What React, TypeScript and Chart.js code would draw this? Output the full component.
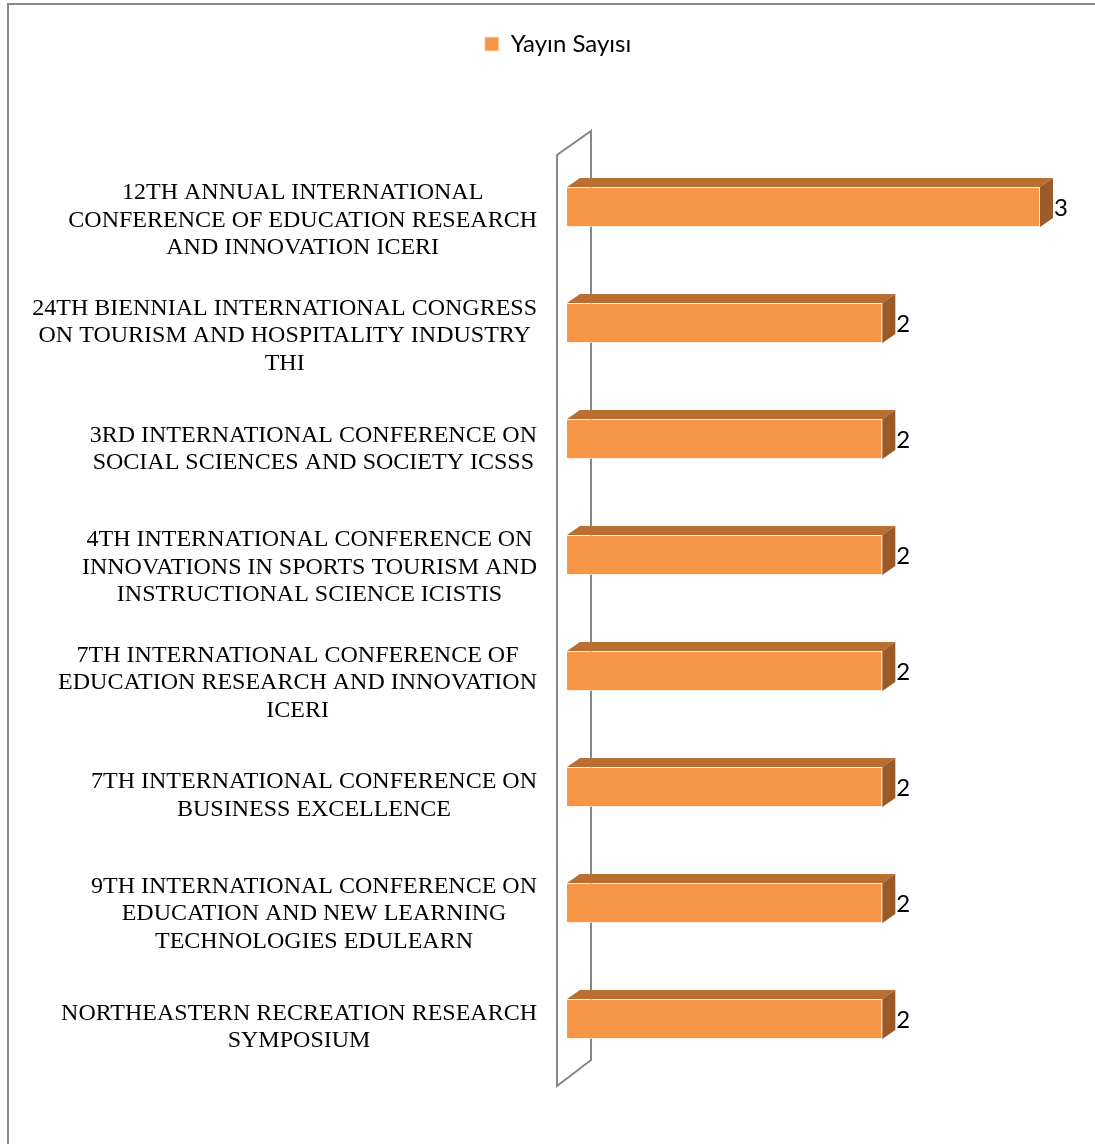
import React, { useEffect, useRef } from "react";
import { Chart, registerables } from "chart.js";

Chart.register(...registerables);

const seriesName = "Yayın Sayısı";
const categories: string[][] = [
  ["12TH ANNUAL INTERNATIONAL", "CONFERENCE OF EDUCATION RESEARCH", "AND INNOVATION ICERI"],
  ["24TH BIENNIAL INTERNATIONAL CONGRESS", "ON TOURISM AND HOSPITALITY INDUSTRY", "THI"],
  ["3RD INTERNATIONAL CONFERENCE ON", "SOCIAL SCIENCES AND SOCIETY ICSSS"],
  ["4TH INTERNATIONAL CONFERENCE ON", "INNOVATIONS IN SPORTS TOURISM AND", "INSTRUCTIONAL SCIENCE ICISTIS"],
  ["7TH INTERNATIONAL CONFERENCE OF", "EDUCATION RESEARCH AND INNOVATION", "ICERI"],
  ["7TH INTERNATIONAL CONFERENCE ON", "BUSINESS EXCELLENCE"],
  ["9TH INTERNATIONAL CONFERENCE ON", "EDUCATION AND NEW LEARNING", "TECHNOLOGIES EDULEARN"],
  ["NORTHEASTERN RECREATION RESEARCH", "SYMPOSIUM"],
];
const values: number[] = [3, 2, 2, 2, 2, 2, 2, 2];
const xMin = 0;
const xMax = 3;

const FRONT = "#F79646";
const TOP = "#B96F31";
const SIDE = "#9A5B28";
const DX = 13;
const DY = 9;
const TARGET_TOP = 149;
const PAD_TOP = 22;
const LABEL_SIZE = 24;
const LINE_H = 27.5;

const threeD = {
  id: "threeD",
  beforeDatasetsDraw(chart: any) {
    const { ctx, chartArea: a } = chart;
    ctx.save();
    ctx.strokeStyle = "#878787";
    ctx.lineWidth = 2;
    ctx.beginPath();
    ctx.moveTo(a.left - 10, a.bottom + 9);
    ctx.lineTo(a.left - 10, a.top + 6);
    ctx.lineTo(a.left + 24, a.top - 18);
    ctx.lineTo(a.left + 24, a.bottom - 17);
    ctx.closePath();
    ctx.stroke();
    ctx.restore();
  },
  afterDatasetsDraw(chart: any) {
    const { ctx, chartArea: a } = chart;
    const meta = chart.getDatasetMeta(0);
    const ds = chart.data.datasets[0];
    ctx.save();
    meta.data.forEach((bar: any, i: number) => {
      const { x, y, base, height } = bar.getProps(["x", "y", "base", "height"], true);
      const t = y - height / 2;
      const b = y + height / 2;
      ctx.fillStyle = TOP;
      ctx.beginPath();
      ctx.moveTo(base, t);
      ctx.lineTo(base + DX, t - DY);
      ctx.lineTo(x + DX, t - DY);
      ctx.lineTo(x, t);
      ctx.closePath();
      ctx.fill();
      ctx.fillStyle = SIDE;
      ctx.beginPath();
      ctx.moveTo(x, t);
      ctx.lineTo(x + DX, t - DY);
      ctx.lineTo(x + DX, b - DY);
      ctx.lineTo(x, b);
      ctx.closePath();
      ctx.fill();
      ctx.fillStyle = "#000";
      ctx.font = "24px Lato";
      ctx.textAlign = "left";
      ctx.textBaseline = "middle";
      ctx.fillText(String(ds.data[i]), x + DX + 1, y + 1);
    });
    // category labels (centred lines, block right-aligned to the axis)
    const yScale = chart.scales.y;
    const rightX = a.left - 30;
    ctx.font = `${LABEL_SIZE}px 'Liberation Serif'`;
    ctx.fillStyle = "#000";
    ctx.textAlign = "center";
    ctx.textBaseline = "alphabetic";
    const capHalf = (0.662 * LABEL_SIZE) / 2;
    (chart.data.labels as string[][]).forEach((lines, i) => {
      const yc = yScale.getPixelForValue(i) + 4 + 2.6 * lines.length - 0.4 * i;
      let maxW = 0;
      lines.forEach((l) => (maxW = Math.max(maxW, ctx.measureText(l).width)));
      const cx = rightX - maxW / 2;
      const y0 = yc - ((lines.length - 1) * LINE_H) / 2;
      lines.forEach((l, k) => ctx.fillText(l, cx, y0 + k * LINE_H + capHalf));
    });
    ctx.restore();
  },
};

export default function App() {
  const ref = useRef<HTMLCanvasElement>(null);
  useEffect(() => {
    if (!ref.current) return;
    const chart = new Chart(ref.current, {
      type: "bar",
      data: {
        labels: categories as any,
        datasets: [
          {
            label: seriesName,
            data: values,
            backgroundColor: FRONT,
            borderColor: "rgba(255,235,215,0.7)",
            borderWidth: 1,
            barPercentage: 0.345,
            categoryPercentage: 1,
          },
        ],
      },
      options: {
        indexAxis: "y",
        animation: false,
        responsive: true,
        maintainAspectRatio: false,
        layout: { padding: { left: 76, right: 55, top: PAD_TOP, bottom: 67 } },
        plugins: {
          tooltip: { enabled: false },
          legend: {
            position: "top",
            labels: {
              boxWidth: 14,
              boxHeight: 14,
              color: "#000",
              font: { family: "Lato", size: 24 },
              padding: 10,
            },
          },
        },
        scales: {
          x: {
            position: "top",
            min: xMin,
            max: xMax,
            grid: { display: false, drawTicks: false },
            border: { display: false },
            ticks: { display: false },
            afterFit: (scale: any) => {
              const lh = scale.chart.legend ? scale.chart.legend.height : 44;
              scale.height = TARGET_TOP - PAD_TOP - lh;
            },
          },
          y: {
            grid: { display: false, drawTicks: false },
            border: { display: false },
            ticks: { display: false },
            afterFit: (scale: any) => {
              scale.width = 567 - 76;
            },
          },
        },
      },
      plugins: [threeD],
    });
    return () => chart.destroy();
  }, []);
  return (
    <div
      style={{
        position: "absolute",
        left: 0,
        top: 0,
        width: 1095,
        height: 1144,
        overflow: "hidden",
        background: "#fff",
      }}
    >
      <canvas ref={ref} />
      <div
        style={{
          position: "absolute",
          left: 7,
          top: 3,
          width: 1200,
          height: 1200,
          borderTop: "2px solid #8a8a8a",
          borderLeft: "2px solid #8a8a8a",
          pointerEvents: "none",
        }}
      />
    </div>
  );
}
